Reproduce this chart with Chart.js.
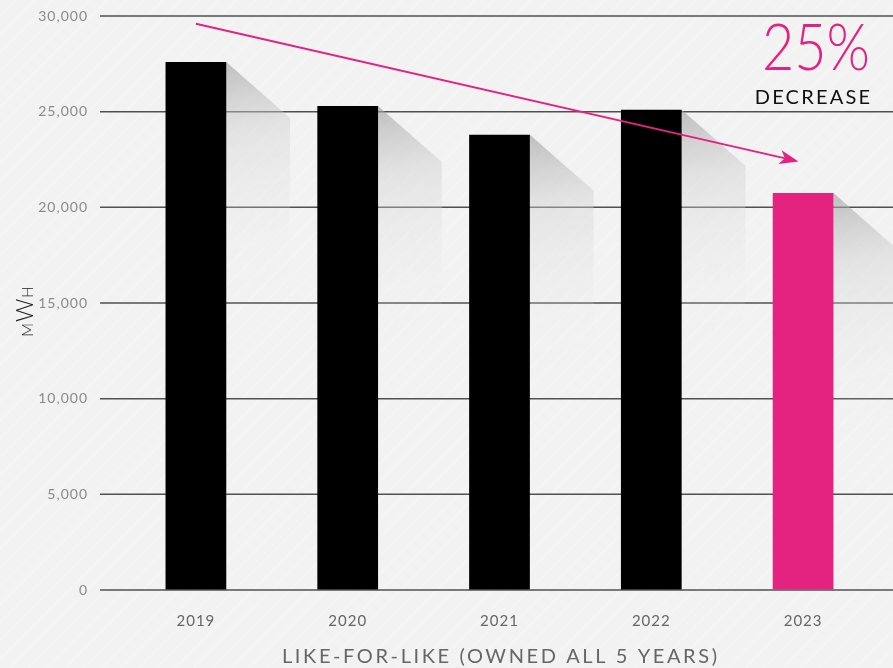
<!DOCTYPE html>
<html lang="en">
<head>
<meta charset="UTF-8">
<title>Energy consumption – like-for-like</title>
<script src="https://cdn.jsdelivr.net/npm/chart.js"></script>
<style>
  html, body { margin: 0; padding: 0; }
  body {
    width: 893px; height: 668px; overflow: hidden;
    background-color: #f2f2f2;
    background-image: repeating-linear-gradient(135deg,
      rgba(255,255,255,0) 0px, rgba(255,255,255,0) 10px,
      rgba(255,255,255,0.25) 11px, rgba(255,255,255,0) 13px);
  }
  canvas { display: block; }
</style>
</head>
<body>
<canvas id="energyChart" width="893" height="668"></canvas>
<script>
const years = ['2019', '2020', '2021', '2022', '2023'];
const energyMwh = [27600, 25300, 23800, 25100, 20750];
const barColors = ['#000000', '#000000', '#000000', '#000000', '#e3237f'];
const yTicks = [0, 5000, 10000, 15000, 20000, 25000, 30000];
const xAxisTitle = 'LIKE-FOR-LIKE (OWNED ALL 5 YEARS)';
const changeValue = '25%';
const changeLabel = 'DECREASE';
// trend arrow ends as [category index, mWh]
const arrowStart = [0, 29600];
const arrowEnd = [3.97, 22400];

const PINK = '#e3237f';
const FONT = 'Lato, "Open Sans", sans-serif';

const decor = {
  id: 'decor',
  beforeDraw(chart) {
    chart.ctx.letterSpacing = '1px';
  },
  beforeDatasetsDraw(chart) {
    const { ctx, chartArea, scales: { y } } = chart;
    ctx.save();
    ctx.letterSpacing = '0px';

    // horizontal grid, running a little past the plot on the left
    ctx.strokeStyle = '#505050';
    ctx.lineWidth = 1.5;
    yTicks.forEach(v => {
      const py = y.getPixelForValue(v);
      ctx.beginPath();
      ctx.moveTo(chartArea.left - 20, py);
      ctx.lineTo(chart.width, py);
      ctx.stroke();
    });

    // long soft shadows cast to the right of each bar
    chart.getDatasetMeta(0).data.forEach(bar => {
      const r = bar.x + bar.width / 2;
      const t = bar.y;
      const b = bar.base;
      const w = bar.width * 1.05;
      const g = ctx.createLinearGradient(r, t, r + 45, t + 240);
      g.addColorStop(0, 'rgba(160,158,158,0.62)');
      g.addColorStop(0.3, 'rgba(210,208,208,0.42)');
      g.addColorStop(1, 'rgba(248,248,248,0)');
      ctx.fillStyle = g;
      ctx.beginPath();
      ctx.moveTo(r, t);
      ctx.lineTo(r + w, t + w * 0.88);
      ctx.lineTo(r + w, b);
      ctx.lineTo(r, b);
      ctx.closePath();
      ctx.fill();
    });
    ctx.restore();
  },
  afterDatasetsDraw(chart) {
    const { ctx, chartArea, scales: { x, y } } = chart;
    ctx.save();

    // trend arrow
    const x0 = x.getPixelForValue(arrowStart[0]);
    const y0 = y.getPixelForValue(arrowStart[1]);
    const x1 = x.getPixelForValue(arrowEnd[0]);
    const y1 = y.getPixelForValue(arrowEnd[1]);
    const ang = Math.atan2(y1 - y0, x1 - x0);
    ctx.strokeStyle = PINK;
    ctx.fillStyle = PINK;
    ctx.lineWidth = 2;
    ctx.beginPath();
    ctx.moveTo(x0, y0);
    ctx.lineTo(x1 - 8 * Math.cos(ang), y1 - 8 * Math.sin(ang));
    ctx.stroke();
    ctx.translate(x1, y1);
    ctx.rotate(ang);
    ctx.beginPath();
    ctx.moveTo(0, 0);
    ctx.lineTo(-19, -7);
    ctx.lineTo(-14, 0);
    ctx.lineTo(-19, 7);
    ctx.closePath();
    ctx.fill();
    ctx.setTransform(1, 0, 0, 1, 0, 0);

    // change callout
    const right = chartArea.right - 9;
    ctx.letterSpacing = '0px';
    ctx.textAlign = 'right';
    ctx.textBaseline = 'alphabetic';
    ctx.font = '300 66px ' + FONT;
    const tw = ctx.measureText(changeValue).width;
    const sx = Math.min(1, 108 / tw);
    ctx.save();
    ctx.translate(right, 70);
    ctx.scale(sx, 1);
    ctx.fillText(changeValue, 0, 0);
    ctx.restore();

    ctx.fillStyle = '#111111';
    ctx.font = '400 20px ' + FONT;
    ctx.letterSpacing = '2.2px';
    ctx.fillText(changeLabel, right + 2.2, 104);

    // y axis unit, small caps M and H around a full W
    const cy = (chartArea.top + chartArea.bottom) / 2 + 8;
    ctx.translate(33, cy);
    ctx.rotate(-Math.PI / 2);
    ctx.fillStyle = '#222222';
    ctx.textAlign = 'left';
    ctx.letterSpacing = '1px';
    const parts = [['M', 15], ['W', 23], ['H', 15]];
    let total = 0;
    parts.forEach(([c, s]) => { ctx.font = '300 ' + s + 'px ' + FONT; total += ctx.measureText(c).width; });
    let px = -total / 2;
    parts.forEach(([c, s]) => {
      ctx.font = '300 ' + s + 'px ' + FONT;
      ctx.fillText(c, px, 0);
      px += ctx.measureText(c).width;
    });
    ctx.setTransform(1, 0, 0, 1, 0, 0);

    // x axis title
    ctx.fillStyle = '#666666';
    ctx.font = '400 20px ' + FONT;
    ctx.letterSpacing = '2.6px';
    ctx.textAlign = 'center';
    ctx.textBaseline = 'middle';
    ctx.fillText(xAxisTitle, (chartArea.left + chartArea.right) / 2 + 1.3, 657);

    ctx.restore();
  },
  afterDraw(chart) {
    chart.ctx.letterSpacing = '0px';
  }
};

new Chart(document.getElementById('energyChart'), {
  type: 'bar',
  data: {
    labels: years,
    datasets: [{
      data: energyMwh,
      backgroundColor: barColors,
      borderWidth: 0,
      barPercentage: 0.4,
      categoryPercentage: 1
    }]
  },
  options: {
    responsive: false,
    devicePixelRatio: 1,
    animation: false,
    layout: { padding: { top: 16, right: 14, left: 0, bottom: 0 } },
    plugins: {
      legend: { display: false },
      tooltip: { enabled: false }
    },
    scales: {
      x: {
        grid: { display: false, drawTicks: false },
        border: { display: false },
        ticks: {
          color: '#666666',
          font: { family: FONT, size: 15 },
          padding: 22
        },
        afterFit(scale) { scale.height = 78; }
      },
      y: {
        min: 0,
        max: 30000,
        // invisible tick marks push the labels away from the plot
        grid: {
          drawOnChartArea: false,
          drawTicks: true,
          tickLength: 32,
          tickColor: 'rgba(0,0,0,0)',
          color: 'rgba(0,0,0,0)'
        },
        border: { display: false },
        ticks: {
          stepSize: 5000,
          color: '#8a8a8a',
          font: { family: FONT, size: 14 },
          padding: 0,
          callback: v => v.toLocaleString('en-US')
        },
        afterFit(scale) { scale.width = 120; }
      }
    }
  },
  plugins: [decor]
});
</script>
</body>
</html>
